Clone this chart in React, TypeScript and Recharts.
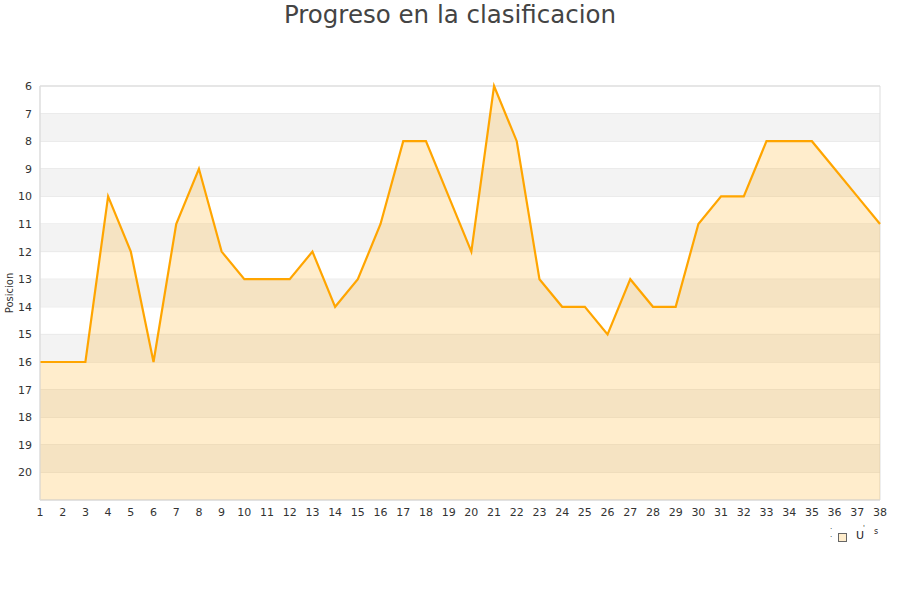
import { AreaChart, Area, XAxis, YAxis, CartesianGrid, ReferenceArea } from "recharts";

document.body.style.margin = "0";

const rounds = [1, 2, 3, 4, 5, 6, 7, 8, 9, 10, 11, 12, 13, 14, 15, 16, 17, 18, 19, 20, 21, 22, 23, 24, 25, 26, 27, 28, 29, 30, 31, 32, 33, 34, 35, 36, 37, 38];
const positions = [16, 16, 16, 10, 12, 16, 11, 9, 12, 13, 13, 13, 12, 14, 13, 11, 8, 8, 10, 12, 6, 8, 13, 14, 14, 15, 13, 14, 14, 11, 10, 10, 8, 8, 8, 9, 10, 11];
const yTicks = [6, 7, 8, 9, 10, 11, 12, 13, 14, 15, 16, 17, 18, 19, 20];
const bandStarts = [7, 9, 11, 13, 15, 17, 19];

const data = rounds.map((r, i) => ({ jornada: r, pos: positions[i] }));

const font = "DejaVu Sans, sans-serif";

// the legend in the original is garbled, reproduced as is
function OddLegend() {
  return (
    <div style={{ position: "absolute", left: 828, top: 526, width: 60, height: 20, fontFamily: font, color: "#222" }}>
      <span style={{ position: "absolute", left: 2, top: -3, fontSize: 7, lineHeight: "8px" }}>.</span>
      <span style={{ position: "absolute", left: 2, top: 5, fontSize: 7, lineHeight: "8px" }}>.</span>
      <span
        style={{
          position: "absolute",
          left: 10,
          top: 7,
          width: 7,
          height: 7,
          background: "#ffedcc",
          border: "1px solid #666",
        }}
      />
      <span style={{ position: "absolute", left: 28, top: 3, fontSize: 11, lineHeight: "13px" }}>U</span>
      <span style={{ position: "absolute", left: 35, top: -2, fontSize: 7, lineHeight: "8px" }}>'</span>
      <span style={{ position: "absolute", left: 46, top: 1, fontSize: 8, lineHeight: "9px" }}>s</span>
    </div>
  );
}

export default function App() {
  return (
    <div style={{ width: 900, height: 600, position: "relative", background: "#fff" }}>
      <div
        style={{
          position: "absolute",
          top: 0,
          left: 0,
          width: 900,
          textAlign: "center",
          fontFamily: font,
          fontSize: 24.5,
          color: "#444",
          lineHeight: "30px",
        }}
      >
        Progreso en la clasificacion
      </div>
      <AreaChart width={900} height={600} data={data} margin={{ top: 86, right: 20, bottom: 70, left: 0 }}>
        <CartesianGrid vertical={false} stroke="#e0e0e0" />
        {bandStarts.map((b) => (
          <ReferenceArea key={b} y1={b} y2={b + 1} fill="#f3f3f3" fillOpacity={1} stroke="none" />
        ))}
        <XAxis
          dataKey="jornada"
          tick={{ fontSize: 11, fontFamily: font, fill: "#333" }}
          tickLine={false}
          axisLine={{ stroke: "#ddd" }}
          interval={0}
        />
        <YAxis
          type="number"
          domain={[6, 21]}
          reversed
          ticks={yTicks}
          interval={0}
          width={40}
          tick={{ fontSize: 11, fontFamily: font, fill: "#333" }}
          tickLine={false}
          axisLine={{ stroke: "#ddd" }}
          label={{
            value: "Posicion",
            angle: -90,
            position: "insideLeft",
            offset: 9,
            style: { fontSize: 10, fontFamily: font, fill: "#333", textAnchor: "middle" },
          }}
        />
        <ReferenceArea x1={1} x2={38} y1={6} y2={21} fill="none" stroke="#ddd" />
        <Area
          type="linear"
          dataKey="pos"
          baseValue={21}
          stroke="#ffa500"
          strokeWidth={2.2}
          fill="#ffa500"
          fillOpacity={0.2}
          dot={false}
          activeDot={false}
          isAnimationActive={false}
        />
      </AreaChart>
      <OddLegend />
    </div>
  );
}
